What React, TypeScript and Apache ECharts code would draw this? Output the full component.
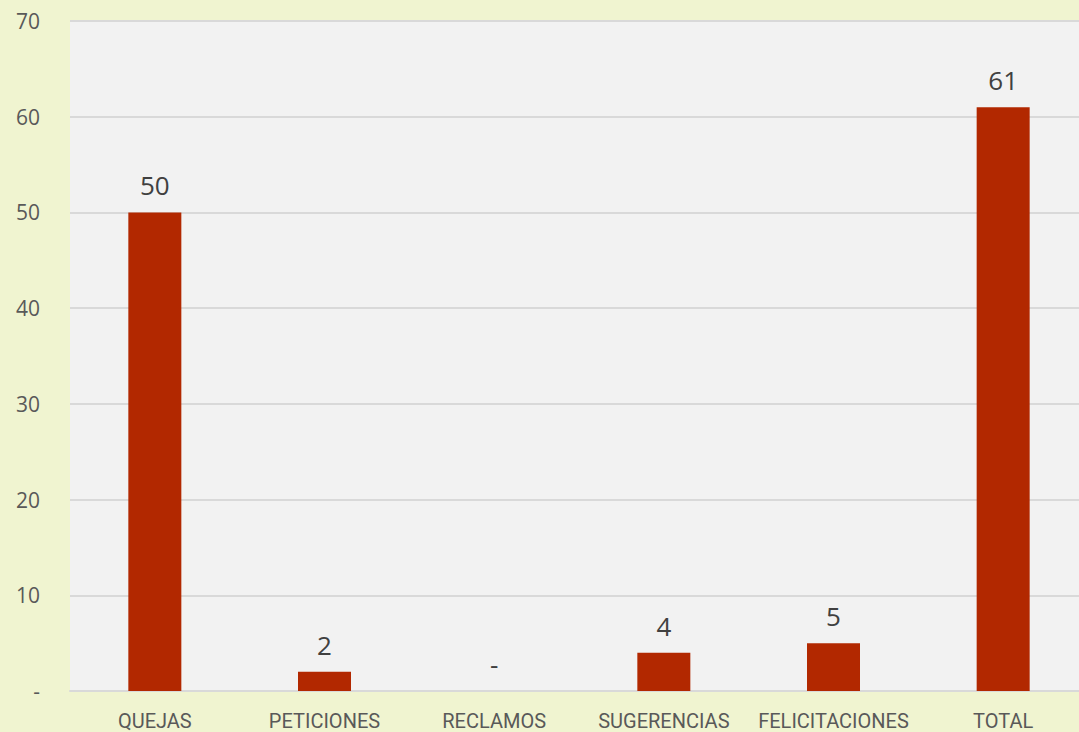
import React, { useEffect, useRef } from "react";
import * as echarts from "echarts";

const categories = ["QUEJAS", "PETICIONES", "RECLAMOS", "SUGERENCIAS", "FELICITACIONES", "TOTAL"];
const values = [50, 2, 0, 4, 5, 61];

export default function App() {
  const ref = useRef<HTMLDivElement>(null);
  useEffect(() => {
    const chart = echarts.init(ref.current!, null, { renderer: "svg" });
    chart.setOption({
      animation: false,
      backgroundColor: "#f0f4d0",
      grid: {
        left: 70,
        right: 0,
        top: 21,
        bottom: 41,
        show: true,
        backgroundColor: "#f2f2f2",
        borderWidth: 0,
      },
      xAxis: {
        type: "category",
        data: categories,
        axisLine: { show: true, lineStyle: { color: "#d9d9d9", width: 2 } },
        axisTick: { show: false },
        axisLabel: {
          color: "#595959",
          fontSize: 20,
          fontFamily: "Liberation Sans Narrow, Roboto, sans-serif",
          margin: 20,
          interval: 0,
        },
      },
      yAxis: {
        type: "value",
        min: 0,
        max: 70,
        interval: 10,
        axisLine: { show: false },
        axisTick: { show: false },
        splitLine: { lineStyle: { color: "#d9d9d9", width: 2 } },
        axisLabel: {
          color: "#595959",
          fontSize: 21,
          fontFamily: "Open Sans, sans-serif",
          margin: 30,
          formatter: (v: number) => (v === 0 ? "-" : String(v)),
        },
      },
      series: [
        {
          type: "bar",
          data: values,
          barWidth: 53,
          itemStyle: { color: "#b22800" },
          label: {
            show: true,
            position: "top",
            distance: 14,
            color: "#404040",
            fontSize: 26,
            fontFamily: "Open Sans, sans-serif",
            formatter: (p: any) => (p.value === 0 ? "-" : String(p.value)),
          },
        },
      ],
    });
    return () => chart.dispose();
  }, []);
  return (
    <div
      style={{ position: "absolute", left: 0, top: 0, width: 1079, height: 732, overflow: "hidden" }}
    >
      <div ref={ref} style={{ width: 1088, height: 732 }} />
    </div>
  );
}
